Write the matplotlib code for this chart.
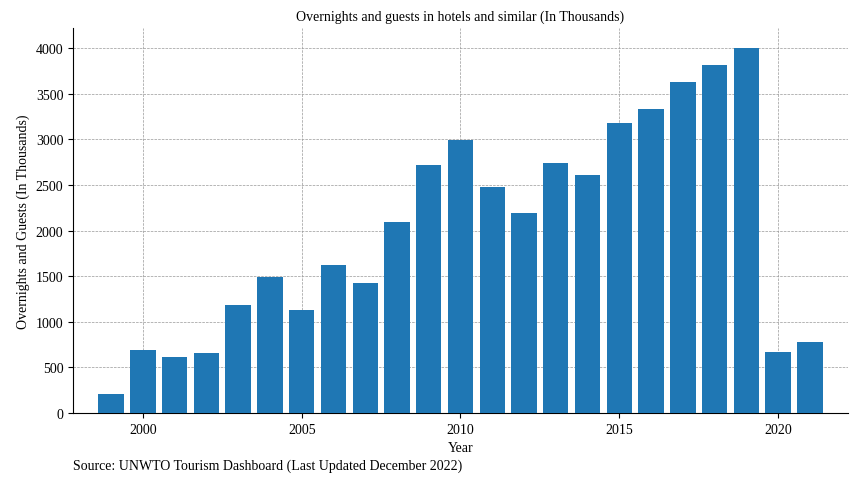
import matplotlib.pyplot as plt
from matplotlib import rcParams
rcParams['font.family'] = ['Liberation Serif', 'DejaVu Serif']

years = list(range(1999, 2022))
values = [210, 690, 610, 660, 1180, 1490, 1130, 1620, 1420, 2090, 2720, 2990,
          2480, 2190, 2740, 2610, 3180, 3330, 3630, 3810, 4000, 670, 780]

fig = plt.figure(figsize=(8.57, 4.89), dpi=100)
ax = fig.add_axes([73/857, 1-414/489, 775/857, 385/489])
ax.bar(years, values, color='#1f77b4', width=0.8, zorder=3)
ax.set_xlim(1997.8, 2022.2)
ax.set_ylim(0, 4220)
ax.set_xticks([2000, 2005, 2010, 2015, 2020])
ax.set_yticks(range(0, 4001, 500))
ax.grid(linestyle='--', linewidth=0.5, color='#999999', zorder=0)
ax.spines['top'].set_visible(False)
ax.spines['right'].set_visible(False)
ax.tick_params(labelsize=10)
ax.set_title("Overnights and guests in hotels and similar (In Thousands)", fontsize=10)
ax.set_xlabel("Year", fontsize=10)
ax.set_ylabel("Overnights and Guests (In Thousands)", fontsize=10)
fig.text(73/857, 1-470/489, "Source: UNWTO Tourism Dashboard (Last Updated December 2022)", fontsize=10)
fig.savefig("out.png", dpi=100)
